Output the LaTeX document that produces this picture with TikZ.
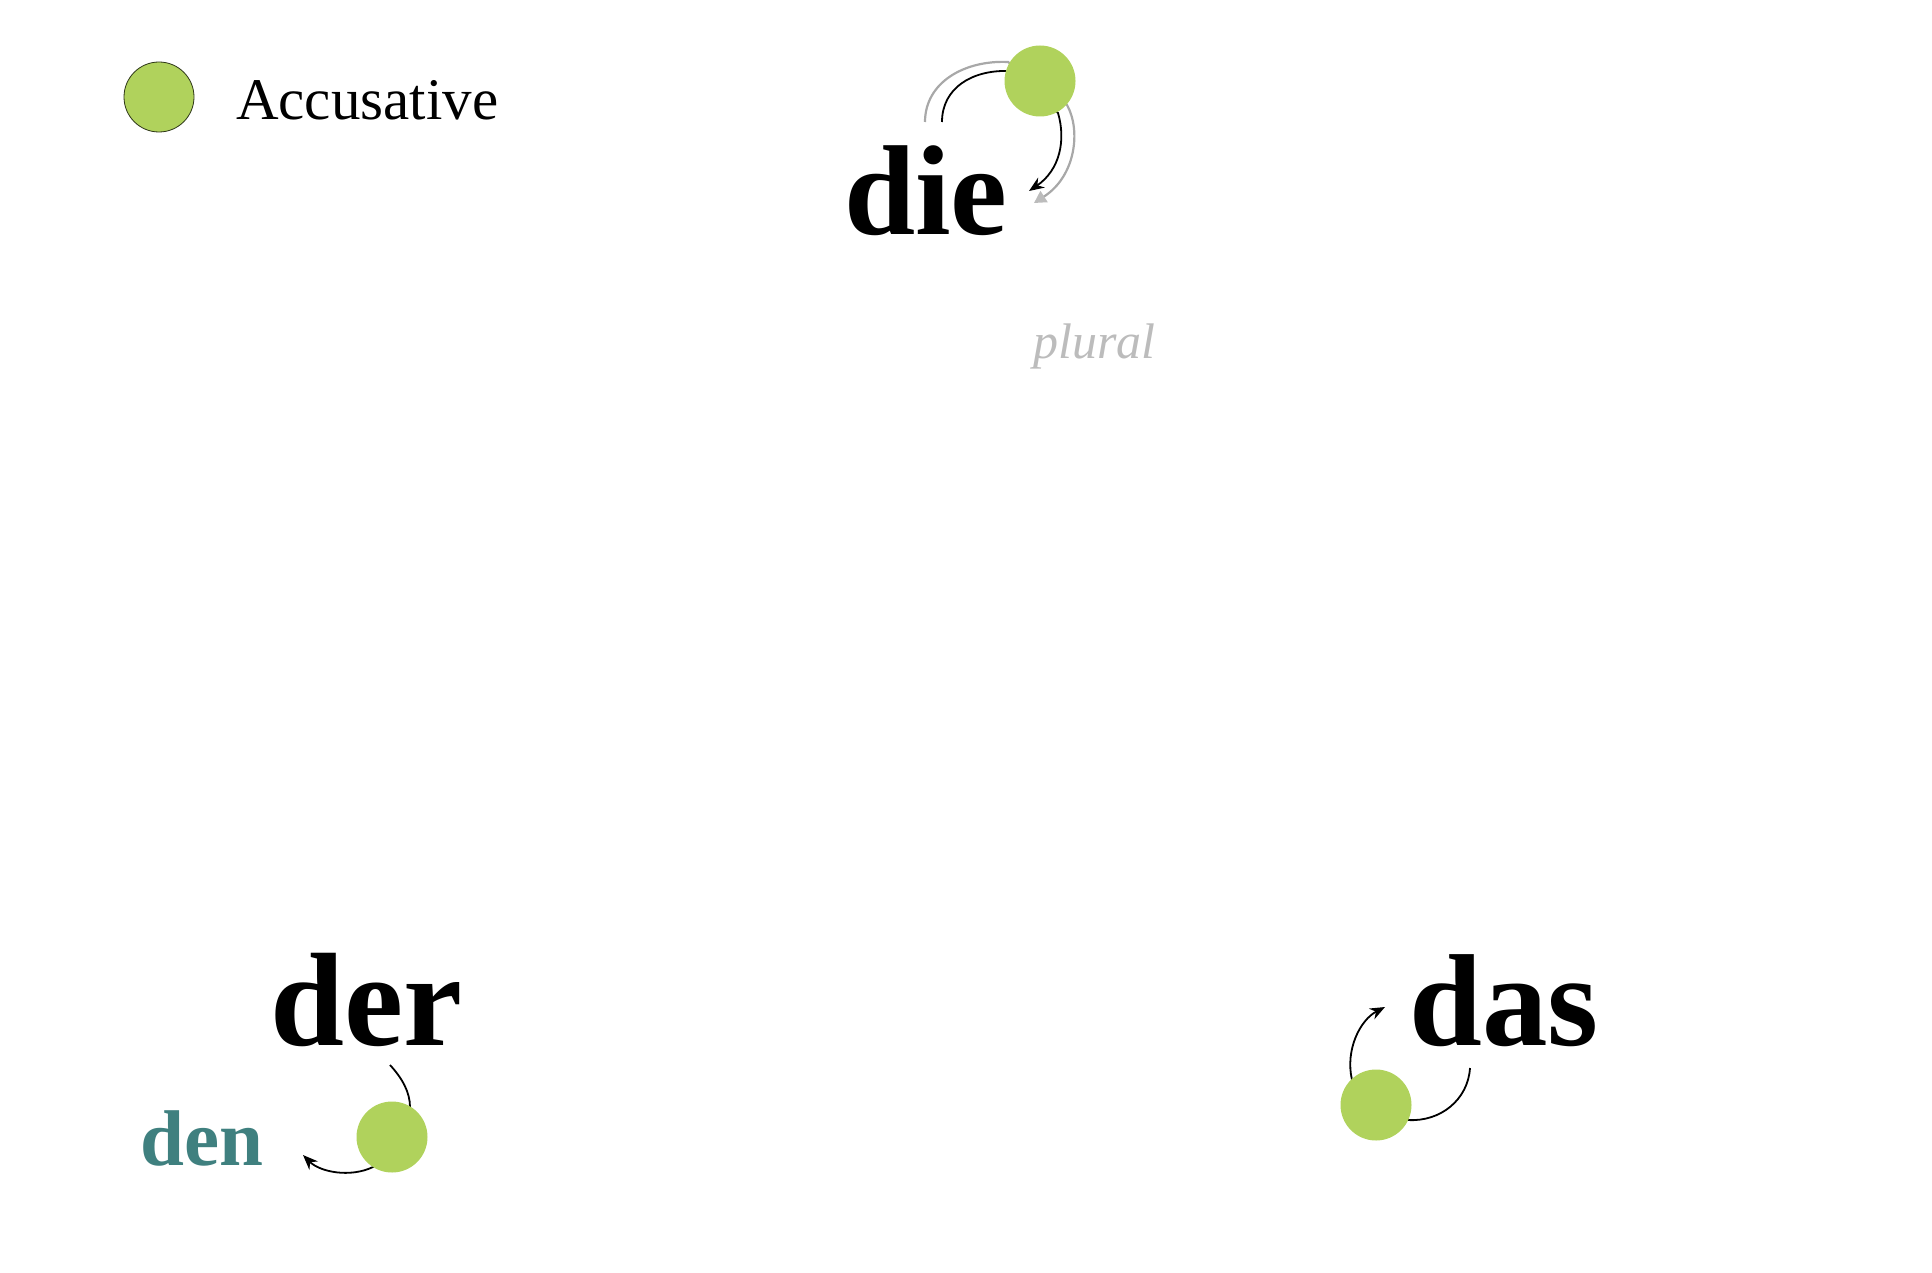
\documentclass[tikz,border=0pt]{standalone}
\usepackage{fontspec}
\setmainfont{Liberation Serif}
\usetikzlibrary{arrows.meta}
\definecolor{accgreen}{HTML}{B0D25C}
\definecolor{denteal}{HTML}{3F807F}
\definecolor{plgrey}{HTML}{A8A8A8}
\definecolor{pltext}{HTML}{BCBCBC}
\tikzstyle{article} = [inner sep=0pt, anchor=base west,
                 font=\bfseries\fontsize{128}{128}\selectfont]
\tikzstyle{dot} = [circle, fill=accgreen, minimum size=71pt, inner sep=0pt]
\tikzstyle{turn} = [draw, line width=1.8pt, -{Stealth[length=15pt,width=12pt]}]
\tikzstyle{pturn} = [draw=plgrey, line width=2.2pt,
                 -{Triangle[length=12pt,width=13pt,color=pltext]}]

\begin{document}
\begin{tikzpicture}[x=1pt,y=-1pt]
\useasboundingbox (0,0) rectangle (1932,1273);

\node [dot, draw=black!75!accgreen, line width=0.8pt, minimum size=70pt] at (159,97) (legend) {};
\node [inner sep=0pt, anchor=base west, font=\fontsize{59}{59}\selectfont] at (236,120) (acc) {Accusative};

\node [article] at (844,235) (die) {die};
\node [article, font=\bfseries\fontsize{133}{133}\selectfont] at (270,1045) (der) {der};
\node [article, font=\bfseries\fontsize{131}{131}\selectfont] at (1409,1045) (das) {das};
\node [article, text=denteal, font=\bfseries\fontsize{79}{79}\selectfont] at (140,1165) (den) {den};
\node [inner sep=0pt, anchor=base west, text=pltext, font=\itshape\fontsize{50}{50}\selectfont] at (1033,358) (plural) {plural};

%arcs
\coordinate (die in) at (942,122);
\coordinate (die out) at (1029,191);
\coordinate (pl in) at (925,122);
\coordinate (pl out) at (1034,203);
\coordinate (der in) at (390,1065);
\coordinate (den out) at (303,1155);
\coordinate (das in) at (1470,1068);
\coordinate (das out) at (1385,1007);

\path [pturn] (pl in) .. controls (925,82) and (965,60) .. (1008,62)
	-- (1067,105) .. controls (1081,130) and (1076,176) .. (pl out);
\path [turn] (die in) .. controls (942,88) and (972,70) .. (1008,71)
	-- (1058,113) .. controls (1066,140) and (1060,170) .. (die out);
\path [turn] (der in) .. controls (402,1078) and (410,1092) .. (410,1107)
	-- (373,1167) .. controls (350,1178) and (320,1172) .. (den out);
\path [turn] (das in) .. controls (1468,1100) and (1440,1122) .. (1408,1120)
	-- (1352,1080) .. controls (1345,1050) and (1360,1020) .. (das out);

\node [dot] at (1040,81) (die acc) {};
\node [dot] at (392,1137) (der acc) {};
\node [dot] at (1376,1105) (das acc) {};

\end{tikzpicture}
\end{document}
